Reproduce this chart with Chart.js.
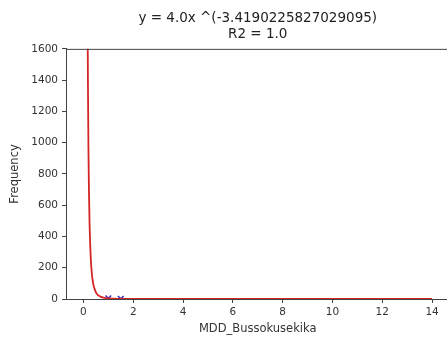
<!DOCTYPE html>
<html>
<head>
<meta charset="utf-8">
<script src="https://cdn.jsdelivr.net/npm/chart.js@4/dist/chart.umd.min.js"></script>
<style>
  html, body { margin: 0; padding: 0; background: #fff; }
  #wrap { width: 447px; height: 338px; overflow: hidden; position: relative; }
  #box { width: 455px; height: 338px; }
</style>
</head>
<body>
<div id="wrap"><div id="box"><canvas id="chartFit"></canvas></div></div>
<script>
// fitted curve
var curveX = [0.17, 0.18, 0.2, 0.22, 0.25, 0.3, 0.35, 0.4, 0.5, 0.6, 0.7, 0.8, 1, 1.5, 2, 3, 5, 8, 14];
var curveY = [1710, 1407, 982, 708, 458, 245, 145, 92, 42.8, 22.9, 13.5, 8.6, 4, 1.0, 0.37, 0.09, 0.016, 0.003, 0.0005];
// observed points
var pointX = [1, 1.5];
var pointY = [4, 1];

var titleLines = ['y = 4.0x ^(-3.4190225827029095)', 'R2 = 1.0'];

function toXY(xs, ys) {
  return xs.map(function (x, i) { return { x: x, y: ys[i] }; });
}

var topSpine = {
  id: 'topSpine',
  afterDraw: function (chart) {
    var a = chart.chartArea, ctx = chart.ctx;
    ctx.save();
    ctx.strokeStyle = '#444';
    ctx.lineWidth = 1;
    ctx.beginPath();
    ctx.moveTo(a.left, a.top + 0.5);
    ctx.lineTo(a.right, a.top + 0.5);
    ctx.stroke();
    ctx.restore();
  }
};

Chart.defaults.font.family = 'DejaVu Sans';
Chart.defaults.color = '#333';

var config = {
  type: 'scatter',
  data: {
    datasets: [
      {
        data: toXY(curveX, curveY),
        showLine: true,
        borderColor: '#d42424',
        borderWidth: 1.8,
        pointRadius: 0,
        cubicInterpolationMode: 'monotone',
        order: 1
      },
      {
        data: toXY(pointX, pointY),
        showLine: false,
        pointStyle: 'crossRot',
        pointRadius: 4,
        borderColor: '#3030c8',
        borderWidth: 1.5,
        order: 2
      }
    ]
  },
  options: {
    animation: false,
    responsive: true,
    maintainAspectRatio: false,
    layout: { padding: { top: 6, right: 0, left: 0, bottom: 0 } },
    plugins: {
      legend: { display: false },
      tooltip: { enabled: false },
      title: {
        display: true,
        fullSize: false,
        text: titleLines,
        font: { size: 13.5, weight: 'normal', lineHeight: 1.18 },
        color: '#222',
        padding: { top: 5, bottom: 6 }
      }
    },
    scales: {
      x: {
        type: 'linear',
        min: -0.7,
        max: 14.7,
        afterBuildTicks: function (s) {
          s.ticks = [0, 2, 4, 6, 8, 10, 12, 14].map(function (v) { return { value: v }; });
        },
        afterFit: function (s) { s.height = 39; },
        grid: { drawOnChartArea: false, tickLength: 4, color: '#444' },
        border: { color: '#444', width: 1 },
        ticks: { font: { size: 10.5 }, color: '#333', padding: 3, maxRotation: 0 },
        title: { display: true, text: 'MDD_Bussokusekika', font: { size: 11.5 }, color: '#333', padding: { top: 1, bottom: 2 } }
      },
      y: {
        min: 0,
        max: 1600,
        ticks: {
          stepSize: 200, font: { size: 10.5 }, color: '#333', padding: 4,
          callback: function (v) { return String(v); }
        },
        afterFit: function (s) { s.width = 66; },
        grid: { drawOnChartArea: false, tickLength: 4, color: '#444' },
        border: { color: '#444', width: 1 },
        title: { display: true, text: 'Frequency', font: { size: 11.5 }, color: '#333', padding: { top: 8, bottom: 4 } }
      }
    }
  },
  plugins: [topSpine]
};

var ctxFit = document.getElementById('chartFit').getContext('2d');
window.fitChart = new Chart(ctxFit, config);
</script>
</body>
</html>
